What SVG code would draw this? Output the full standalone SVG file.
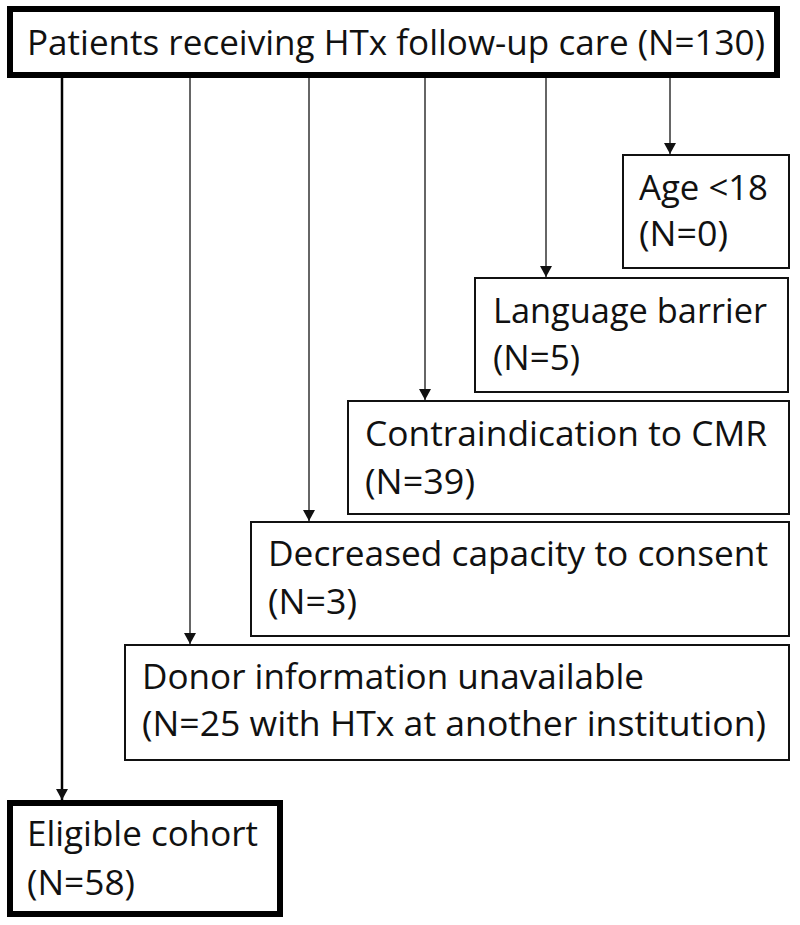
<svg xmlns="http://www.w3.org/2000/svg" width="800" height="925" viewBox="0 0 800 925">
<style>
  text { font-family: "Open Sans", "Liberation Sans", sans-serif; font-size: 34px; fill: #111; }
  .box { fill: #fff; stroke: #111; stroke-width: 2; }
  .main { fill: #fff; stroke: #000; stroke-width: 6; }
  .thin { stroke: #333; stroke-width: 1.5; fill: none; }
  .thick { stroke: #000; stroke-width: 2.5; fill: none; }
</style>
<defs>
  <marker id="ah" markerUnits="userSpaceOnUse" markerWidth="12" markerHeight="13" refX="11" refY="6" orient="auto" viewBox="0 0 12 12">
    <path d="M0,0 L11,6 L0,12 Z" fill="#111"/>
  </marker>
</defs>
<rect width="800" height="925" fill="#fff"/>
<g id="connectors">
  <line class="thin" x1="670" y1="78" x2="670" y2="154" marker-end="url(#ah)"/>
  <line class="thin" x1="546" y1="78" x2="546" y2="277" marker-end="url(#ah)"/>
  <line class="thin" x1="425" y1="78" x2="425" y2="400" marker-end="url(#ah)"/>
  <line class="thin" x1="309" y1="78" x2="309" y2="521" marker-end="url(#ah)"/>
  <line class="thin" x1="190" y1="78" x2="190" y2="644" marker-end="url(#ah)"/>
  <line class="thick" x1="62" y1="78" x2="62" y2="800" marker-end="url(#ah)"/>
</g>
<g id="start">
  <rect class="main" x="10" y="9" width="767" height="66"/>
  <text x="27" y="55" textLength="738" lengthAdjust="spacingAndGlyphs">Patients receiving HTx follow-up care (N=130)</text>
</g>
<g id="age">
  <rect class="box" x="623" y="155" width="166" height="113"/>
  <text x="639" y="200" textLength="129" lengthAdjust="spacingAndGlyphs">Age &lt;18</text>
  <text x="639" y="246" textLength="89" lengthAdjust="spacingAndGlyphs">(N=0)</text>
</g>
<g id="language">
  <rect class="box" x="475" y="278" width="313" height="114"/>
  <text x="493" y="323" textLength="274" lengthAdjust="spacingAndGlyphs">Language barrier</text>
  <text x="493" y="370" textLength="87" lengthAdjust="spacingAndGlyphs">(N=5)</text>
</g>
<g id="contraindication">
  <rect class="box" x="348" y="401" width="441" height="113"/>
  <text x="365" y="446" textLength="402" lengthAdjust="spacingAndGlyphs">Contraindication to CMR</text>
  <text x="365" y="494" textLength="110" lengthAdjust="spacingAndGlyphs">(N=39)</text>
</g>
<g id="capacity">
  <rect class="box" x="251" y="522" width="538" height="114"/>
  <text x="268" y="566" textLength="500" lengthAdjust="spacingAndGlyphs">Decreased capacity to consent</text>
  <text x="268" y="614" textLength="89" lengthAdjust="spacingAndGlyphs">(N=3)</text>
</g>
<g id="donor">
  <rect class="box" x="125" y="645" width="664" height="115"/>
  <text x="142" y="689" textLength="502" lengthAdjust="spacingAndGlyphs">Donor information unavailable</text>
  <text x="142" y="736" textLength="624" lengthAdjust="spacingAndGlyphs">(N=25 with HTx at another institution)</text>
</g>
<g id="eligible">
  <rect class="main" x="10" y="803" width="270" height="111"/>
  <text x="27" y="846" textLength="231" lengthAdjust="spacingAndGlyphs">Eligible cohort</text>
  <text x="27" y="895" textLength="108" lengthAdjust="spacingAndGlyphs">(N=58)</text>
</g>
</svg>
